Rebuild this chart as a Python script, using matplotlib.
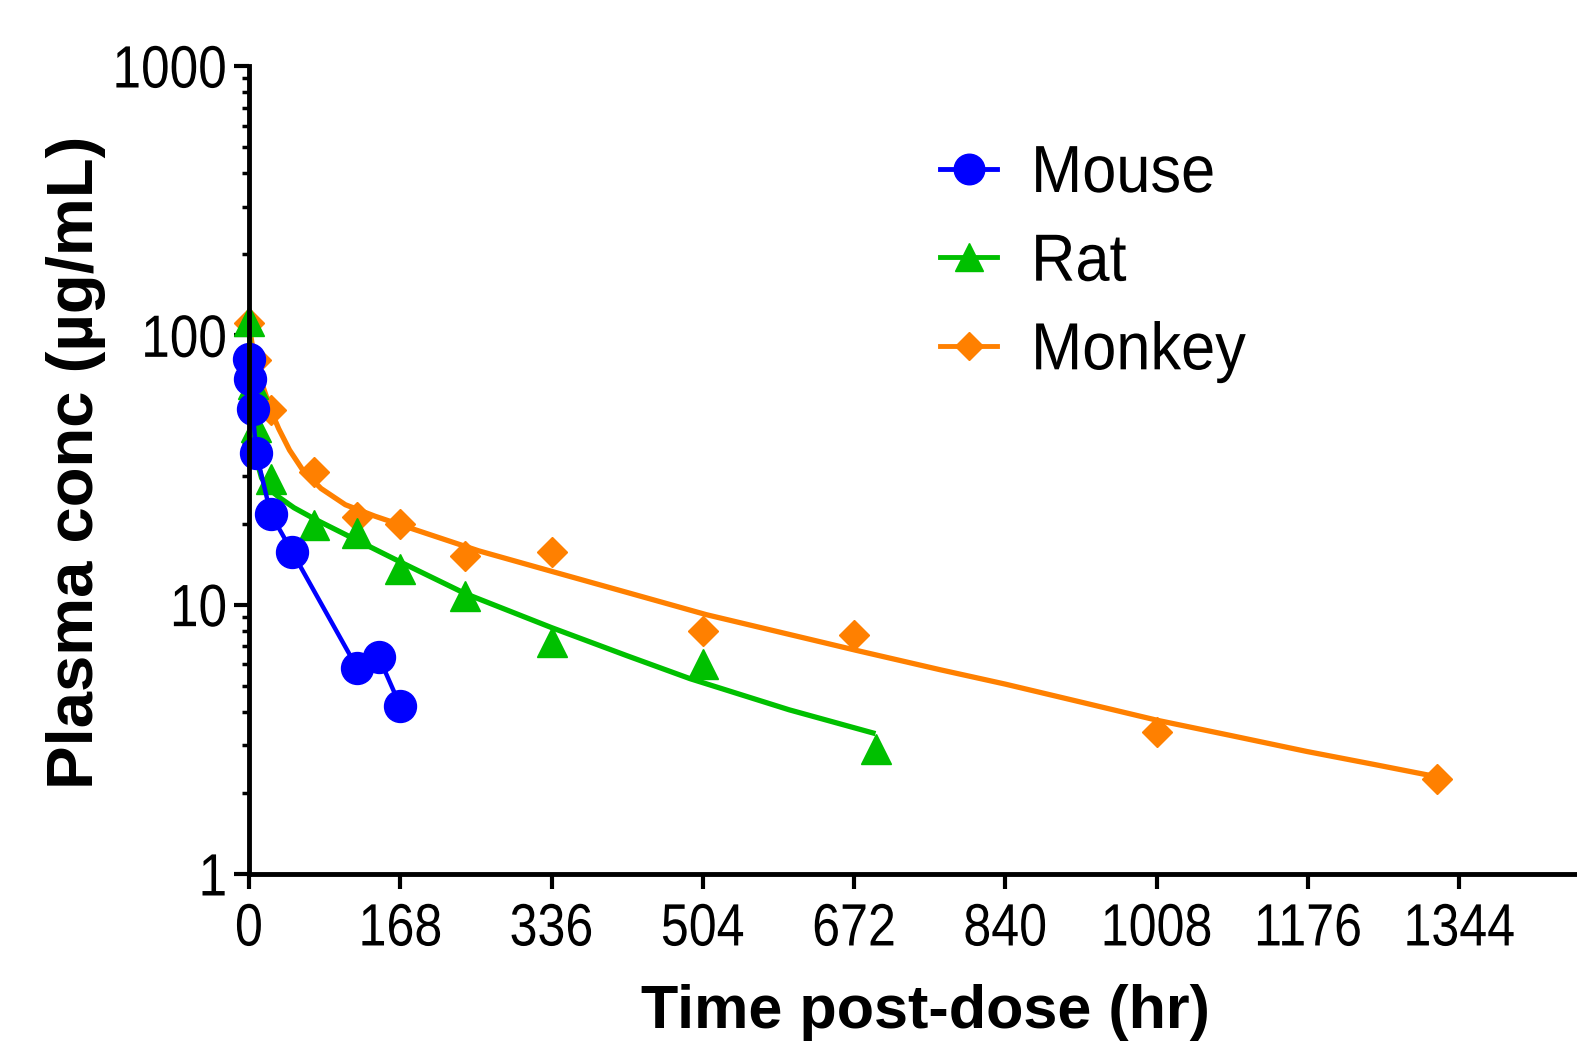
# plasma concentration vs time, three species, log y axis
import matplotlib.pyplot as plt
from matplotlib.lines import Line2D
from matplotlib.patheffects import AbstractPathEffect
from matplotlib.ticker import FixedLocator, LogLocator, NullFormatter
from matplotlib.transforms import Affine2D

plt.rcParams['font.family'] = ['Liberation Sans', 'DejaVu Sans']

# mouse: observed means, joined point to point
mouse_t = [0.083, 1, 4, 8, 24, 48, 120, 144, 168]
mouse_c = [82, 68.6, 53.1, 36.6, 21.8, 15.7, 5.83, 6.41, 4.21]

rat_t = [0.083, 4, 8, 24, 72, 120, 168, 240, 336, 504, 696]
rat_c = [113, 66, 45.5, 29.2, 19.7, 18.4, 13.6, 10.8, 7.25, 6.0, 2.91]
rat_fit_t = [0.083, 2, 4, 8, 10, 14, 24, 33, 50, 74, 122, 170, 240, 336, 420, 490, 600, 693]
rat_fit_c = [110, 75, 55, 38, 33, 29.5, 26.6, 25.1, 22.9, 20.7, 17.2, 14.3, 11.0, 8.22,
             6.46, 5.31, 4.07, 3.34]

# monkey: observed means + fitted curve
monkey_t = [0.083, 8, 24, 72, 120, 168, 240, 336, 504, 672, 1008, 1320]
monkey_c = [111, 81, 53, 31, 21.2, 20.0, 15.2, 15.7, 7.96, 7.7, 3.37, 2.25]
monkey_fit_t = [0.083, 4, 8, 12, 18, 25, 33, 45, 60, 80, 107, 140, 174, 255, 336, 420, 508,
                590, 675, 768, 840, 920, 1009, 1090, 1175, 1250, 1327]
monkey_fit_c = [110, 90, 78, 70, 61, 52, 45, 37.5, 31.5, 27, 23.5, 21.3, 19.5, 15.85, 13.3,
                11.1, 9.18, 7.9, 6.76, 5.73, 5.07, 4.38, 3.72, 3.27, 2.85, 2.55, 2.27]

xticks = [0, 168, 336, 504, 672, 840, 1008, 1176, 1344]
yticks = [1, 10, 100, 1000]

blue = '#0000FF'
green = '#00C000'
orange = '#FF8000'


class SqueezeX(AbstractPathEffect):
    # the original uses a condensed face; narrow the glyphs horizontally
    def __init__(self, sx, anchor='center'):
        super().__init__()
        self.sx = sx
        self.anchor = anchor

    def draw_path(self, renderer, gc, tpath, affine, rgbFace=None):
        ext = tpath.get_extents()
        if self.anchor == 'right':
            cx = ext.x1
        elif self.anchor == 'left':
            cx = ext.x0
        else:
            cx = (ext.x0 + ext.x1) / 2
        sq = Affine2D().translate(-cx, 0).scale(self.sx, 1).translate(cx, 0)
        renderer.draw_path(gc, tpath, sq + affine, rgbFace)


fig = plt.figure(figsize=(15.77, 10.43), dpi=100)
ax = fig.add_axes([249 / 1577, 1 - 874 / 1043, 1 - 249 / 1577, (874 - 66) / 1043])

# fitted lines first, markers on top
ax.plot(monkey_fit_t, monkey_fit_c, color=orange, lw=3.8, clip_on=False)
ax.plot(rat_fit_t, rat_fit_c, color=green, lw=3.8, clip_on=False)
ax.plot(monkey_t, monkey_c, 'D', color=orange, ms=15, mec=orange, clip_on=False)
ax.plot(rat_t, rat_c, '^', color=green, ms=21, mec=green, clip_on=False)
ax.plot(mouse_t, mouse_c, '-o', color=blue, lw=3.2, ms=23, mec=blue, clip_on=False)

ax.set_yscale('log')
ax.set_ylim(1, 1000)
ax.set_xlim(0, 1475)

for s in ['top', 'right']:
    ax.spines[s].set_visible(False)
for s in ['left', 'bottom']:
    ax.spines[s].set_linewidth(3.5)

ax.xaxis.set_major_locator(FixedLocator(xticks))
ax.set_xticklabels([str(t) for t in xticks], path_effects=[SqueezeX(0.84)])
ax.yaxis.set_major_locator(FixedLocator(yticks))
ax.set_yticklabels([str(t) for t in yticks], path_effects=[SqueezeX(0.86, 'right')])
ax.yaxis.set_minor_locator(LogLocator(base=10, subs=range(2, 10)))
ax.yaxis.set_minor_formatter(NullFormatter())

ax.tick_params(axis='both', which='major', length=10.5, width=3, labelsize=43)
ax.tick_params(axis='x', which='major', pad=10)
ax.tick_params(axis='y', which='major', pad=5)
ax.tick_params(axis='y', which='minor', length=5, width=2.5)

ax.set_xlabel('Time post-dose (hr)', fontsize=44, fontweight='bold', va='top')
ax.set_ylabel('Plasma conc (µg/mL)', fontsize=47, fontweight='bold')
ax.xaxis.set_label_coords(0.509, -0.136)
ax.yaxis.set_label_coords(-0.108, 0.509)

handles = [
    Line2D([], [], color=blue, lw=3.5, marker='o', ms=22),
    Line2D([], [], color=green, lw=3.5, marker='^', ms=20),
    Line2D([], [], color=orange, lw=3.5, marker='D', ms=14),
]
leg = fig.legend(handles, ['Mouse', 'Rat', 'Monkey'], loc='upper left',
                 bbox_to_anchor=(880 / 1577, 1 - 84 / 1043), frameon=False,
                 fontsize=48, handlelength=0.86, handletextpad=0.5, labelspacing=0.4)
for t in leg.get_texts():
    t.set_path_effects([SqueezeX(0.92, 'left')])

fig.savefig('out.png', dpi=100)
